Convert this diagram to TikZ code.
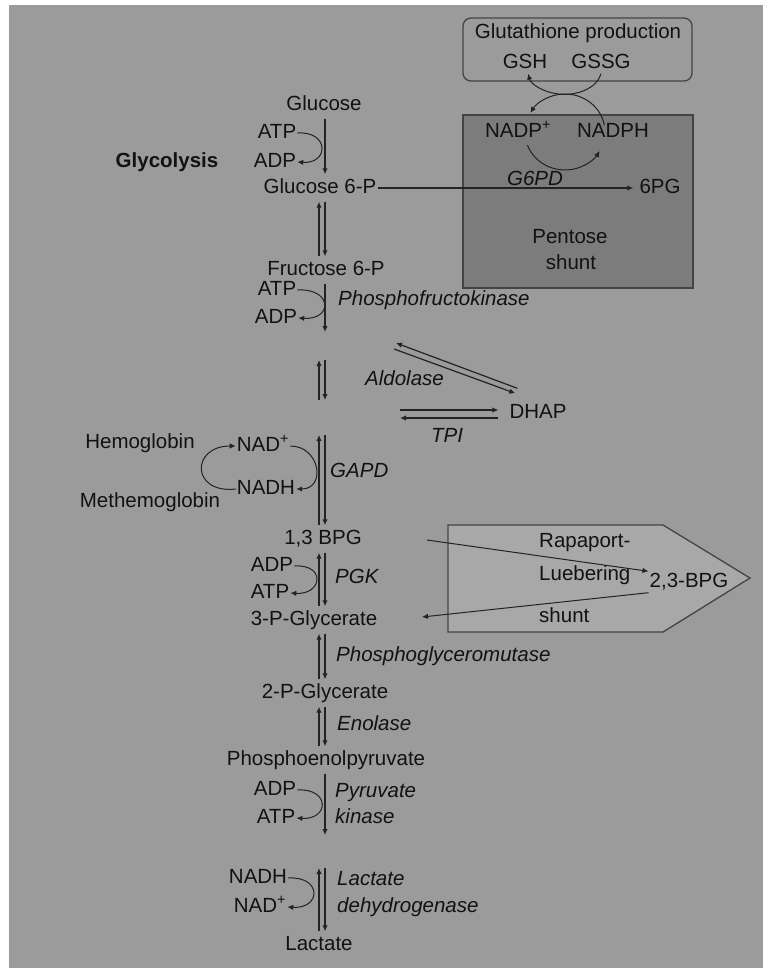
\documentclass[tikz,border=0pt]{standalone}
\usepackage{fontspec}
\setmainfont{Liberation Sans}
\usetikzlibrary{arrows.meta}

\definecolor{bgcol}{RGB}{155,155,155}
\definecolor{pentcol}{RGB}{124,124,124}
\definecolor{rlcol}{RGB}{168,168,168}
\definecolor{inkcol}{RGB}{18,18,18}
\definecolor{lncol}{RGB}{35,35,35}

\tikzset{
  met/.style={font=\fontsize{20.5}{24}\selectfont, text=inkcol, inner sep=1pt,
    text height=15pt, text depth=4pt},
  enz/.style={met, font=\fontsize{20.5}{24}\selectfont\itshape, anchor=west},
  rx/.style={draw=lncol, line width=1.3pt, shorten <=3pt, shorten >=3pt,
    -{Latex[length=6pt,width=5.5pt]}},
  cof/.style={draw=lncol, line width=1pt, -{Latex[length=6pt,width=5.5pt]}},
  boxline/.style={draw=lncol!85, line width=1.3pt},
}

\begin{document}
\begin{tikzpicture}[x=1pt,y=-1pt]

  \newcommand\revstep[2]{%
    \draw[rx] (#2 -| axL) -- (#1 -| axL);
    \draw[rx] (#1 -| axR) -- (#2 -| axR);}

  \useasboundingbox (0,0) rectangle (763,968);
  \fill[white] (0,0) rectangle (763,968);
  \fill[bgcol] (9,5) rectangle (763,968);

  \coordinate (axL) at (319,0);
  \coordinate (axR) at (325,0);
  \coordinate (axM) at (325,0);

  %% side boxes
  \draw[boxline, rounded corners=8pt] (463,18) rectangle (692,81);
  \draw[boxline, fill=pentcol] (463,115) rectangle (693,288);
  \draw[boxline, fill=rlcol] (448,525) -- (663,525) -- (750,578) -- (663,632) -- (448,632) -- cycle;

  %% glutathione / pentose shunt
  \node[met] (gsprod) at (578,33) {Glutathione production};
  \node[met] (gsh) at (525,63) {GSH};
  \node[met] (gssg) at (601,63) {GSSG};
  \node[met] (nadp) at (518,132) {NADP\textsuperscript{+}};
  \node[met] (nadph) at (613,132) {NADPH};
  \node[enz, anchor=center] (g6pd) at (535,180) {G6PD};
  \node[met] (pg6) at (660,188) {6PG};
  \node[met] (pent1) at (570,238) {Pentose};
  \node[met] (pent2) at (571,264) {shunt};
  \coordinate (cyc) at (565,132);

  %% main pathway
  \node[met, font=\fontsize{20.5}{24}\selectfont\bfseries] (glyco) at (167,162) {Glycolysis};
  \node[met] (glc) at (324,105) {Glucose};
  \node[met] (atp1) at (277,133) {ATP};
  \node[met] (adp1) at (275,162) {ADP};
  \node[met] (g6p) at (320,188) {Glucose 6-P};
  \node[met] (f6p) at (326,270) {Fructose 6-P};
  \node[met] (atp2) at (277,290) {ATP};
  \node[met] (adp2) at (276,318) {ADP};
  \node[enz] (pfk) at (337,300) {Phosphofructokinase};
  \coordinate (fbp1) at (0,335);
  \coordinate (fbp2) at (0,357);
  \node[enz] (aldo) at (364,380) {Aldolase};
  \node[met] (dhap) at (538,413) {DHAP};
  \node[enz, anchor=center] (tpi) at (447,437) {TPI};
  \coordinate (gap1) at (0,403);
  \coordinate (gap2) at (0,432);
  \node[met] (hb) at (140,443) {Hemoglobin};
  \node[met] (methb) at (150,502) {Methemoglobin};
  \node[met] (nad1) at (263,446) {NAD\textsuperscript{+}};
  \node[met] (nadh1) at (266,489) {NADH};
  \node[enz] (gapd) at (329,472) {GAPD};
  \node[met] (bpg13) at (323,539) {1,3 BPG};
  \node[met] (adp3) at (272,566) {ADP};
  \node[met] (atp3) at (270,593) {ATP};
  \node[enz] (pgk) at (334,578) {PGK};
  \node[met] (pg3) at (314,620) {3-P-Glycerate};
  \node[enz] (pgm) at (335,656) {Phosphoglyceromutase};
  \node[met] (pg2) at (325,693) {2-P-Glycerate};
  \node[enz] (eno) at (336,725) {Enolase};
  \node[met] (pep) at (326,760) {Phosphoenolpyruvate};
  \node[met] (adp4) at (275,790) {ADP};
  \node[met] (atp4) at (276,818) {ATP};
  \node[enz] (pk1) at (334,792) {Pyruvate};
  \node[enz] (pk2) at (334,818) {kinase};
  \coordinate (pyr1) at (0,838);
  \coordinate (pyr2) at (0,865);
  \node[met] (nadh2) at (258,878) {NADH};
  \node[met] (nad2) at (260,907) {NAD\textsuperscript{+}};
  \node[enz] (ldh1) at (336,880) {Lactate};
  \node[enz] (ldh2) at (336,907) {dehydrogenase};
  \node[met] (lac) at (319,945) {Lactate};

  %% Rapaport-Luebering shunt
  \node[met, anchor=west] (rl1) at (538,542) {Rapaport-};
  \node[met, anchor=west] (rl2) at (538,575) {Luebering};
  \node[met, anchor=west] (rl3) at (538,617) {shunt};
  \node[met] (bpg23) at (689,582) {2,3-BPG};
  \coordinate (rlin) at (427,540);
  \coordinate (rlout) at (422,617);

  %% steps
  \draw[rx] (glc.south -| axM) -- (g6p.north -| axM);
  \revstep{g6p.south}{f6p.north}
  \draw[rx] (f6p.south -| axM) -- (fbp1 -| axM);
  \revstep{fbp2}{gap1}
  \revstep{gap2}{bpg13.north}
  \revstep{bpg13.south}{pg3.north}
  \revstep{pg3.south}{pg2.north}
  \revstep{pg2.south}{pep.north}
  \draw[rx] (pep.south -| axM) -- (pyr1 -| axM);
  \revstep{pyr2}{lac.north}

  %% cofactors
  \draw[cof] (atp1.east) .. controls +(32,-2) and +(32,2) .. (adp1.east);
  \draw[cof] (atp2.east) .. controls +(35,-2) and +(35,2) .. (adp2.east);
  \draw[cof] (adp3.east) .. controls +(32,-2) and +(32,2) .. (atp3.east);
  \draw[cof] (adp4.east) .. controls +(33,-2) and +(33,2) .. (atp4.east);
  \draw[cof] (nadh2.east) .. controls +(34,-2) and +(34,2) .. (nad2.east);
  \draw[cof] (nad1.east) .. controls +(30,0) and +(30,0) .. (nadh1.east); %% GAPD
  \draw[cof] (nadh1.west) .. controls +(-45,5) and +(-45,0) .. (nad1.west); %% methemoglobin

  %% aldolase, TPI
  \coordinate (ald1) at (396,343);
  \coordinate (ald2) at (394,349);
  \coordinate (tpi1) at (400,410);
  \coordinate (tpi2) at (400,418);
  \draw[cof, line width=1.2pt] ([shift={(9,-14)}]dhap.north west) -- (ald1);
  \draw[cof, line width=1.2pt] (ald2) -- ([shift={(7,-9)}]dhap.north west);
  \draw[cof, line width=1.2pt] (tpi1) -- ([shift={(-10,-3)}]dhap.west);
  \draw[cof, line width=1.2pt] ([shift={(-10,5)}]dhap.west) -- (tpi2);

  %% pentose shunt
  \draw[cof, line width=1.2pt, shorten >=5pt] (g6p.east) -- (pg6.west);
  \draw[cof] (cyc) ++(160:40 and 38) arc[start angle=160, end angle=30, x radius=40, y radius=38];
  \draw[cof] (cyc) ++(-10:40 and 38) arc[start angle=-10, end angle=-150, x radius=40, y radius=38];
  \draw[cof] (gssg.south) arc[start angle=10, end angle=170, x radius=37, y radius=25];

  %% 2,3-BPG
  \draw[cof] (rlin) -- (bpg23.north west);
  \draw[cof] (bpg23.south west) -- (rlout);

\end{tikzpicture}
\end{document}
